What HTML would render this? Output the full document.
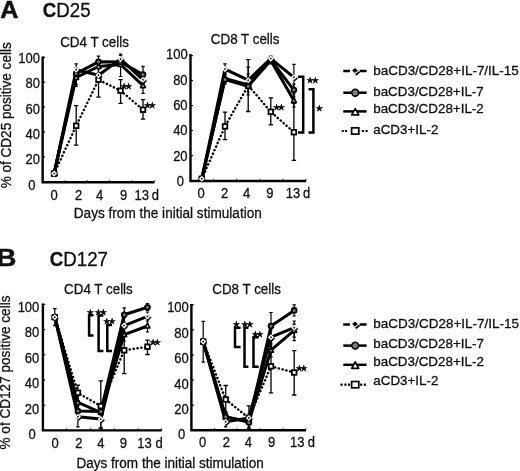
<!DOCTYPE html>
<html lang="en"><head><meta charset="utf-8"><title>Figure</title>
<style>html,body{margin:0;padding:0;background:#fff}body{width:520px;height:471px;overflow:hidden}svg text{font-family:"Liberation Sans", sans-serif}</style>
</head><body>
<svg width="520" height="471" viewBox="0 0 520 471" style="display:block" font-family='"Liberation Sans", sans-serif' fill="#111">
<rect width="520" height="471" fill="#fff"/>
<path d="M42.65 56.5V182.3H154.4" fill="none" stroke="#000" stroke-width="2.4" stroke-linejoin="miter"/>
<path d="M76.2 105.6V145.1M74 105.6H78.4M74 145.1H78.4" stroke="#000" stroke-width="1.3" fill="none"/>
<path d="M98.5 63.4V97.1M96.3 63.4H100.7M96.3 97.1H100.7" stroke="#000" stroke-width="1.3" fill="none"/>
<path d="M120.6 79.7V103.3M118.4 79.7H122.8M118.4 103.3H122.8" stroke="#000" stroke-width="1.3" fill="none"/>
<path d="M143 99.6V119.2M140.8 99.6H145.2M140.8 119.2H145.2" stroke="#000" stroke-width="1.3" fill="none"/>
<path d="M76.2 70V86.3M74.5 70H77.9M74.5 86.3H77.9" stroke="#000" stroke-width="1.2" fill="none"/>
<path d="M98.5 60V73M96.8 60H100.2M96.8 73H100.2" stroke="#000" stroke-width="1.2" fill="none"/>
<path d="M120.6 54V76.5M118.9 54H122.3M118.9 76.5H122.3" stroke="#000" stroke-width="1.2" fill="none"/>
<path d="M143 78V93.3M141.3 78H144.7M141.3 93.3H144.7" stroke="#000" stroke-width="1.2" fill="none"/>
<path d="M76.2 68V84.4M74.5 68H77.9M74.5 84.4H77.9" stroke="#000" stroke-width="1.2" fill="none"/>
<path d="M98.5 56.1V68M96.8 56.1H100.2M96.8 68H100.2" stroke="#000" stroke-width="1.2" fill="none"/>
<path d="M120.6 58V66M118.9 58H122.3M118.9 66H122.3" stroke="#000" stroke-width="1.2" fill="none"/>
<path d="M143 66.3V83M141.3 66.3H144.7M141.3 83H144.7" stroke="#000" stroke-width="1.2" fill="none"/>
<path d="M76.2 63.8V77M74.5 63.8H77.9M74.5 77H77.9" stroke="#000" stroke-width="1.2" fill="none"/>
<path d="M98.5 68V82M96.8 68H100.2M96.8 82H100.2" stroke="#000" stroke-width="1.2" fill="none"/>
<path d="M120.6 55.4V62.6M118.9 55.4H122.3M118.9 62.6H122.3" stroke="#000" stroke-width="1.2" fill="none"/>
<path d="M143 74V86M141.3 74H144.7M141.3 86H144.7" stroke="#000" stroke-width="1.2" fill="none"/>
<polyline points="54.1,173.6 76.2,125.8 98.5,79.7 120.6,90.7 143,109.7" fill="none" stroke="#000" stroke-width="2.4" stroke-dasharray="0.3 3.6" stroke-linecap="round"/>
<polyline points="54.1,173.6 76.2,77.5 98.5,66.5 120.6,64.5 143,85.6" fill="none" stroke="#000" stroke-width="3" stroke-linejoin="round"/>
<polyline points="54.1,173.6 76.2,73.5 98.5,61.8 120.6,62 143,74.6" fill="none" stroke="#000" stroke-width="3" stroke-linejoin="round"/>
<polyline points="54.1,173.6 76.2,69.8 98.5,75.2 120.6,59 143,79.8" fill="none" stroke="#000" stroke-width="3" stroke-linejoin="round"/>
<rect x="51.8" y="171.3" width="4.6" height="4.6" fill="#fff" stroke="#000" stroke-width="1.8"/>
<rect x="73.9" y="123.5" width="4.6" height="4.6" fill="#fff" stroke="#000" stroke-width="1.8"/>
<rect x="96.2" y="77.4" width="4.6" height="4.6" fill="#fff" stroke="#000" stroke-width="1.8"/>
<rect x="118.3" y="88.4" width="4.6" height="4.6" fill="#fff" stroke="#000" stroke-width="1.8"/>
<rect x="140.7" y="107.4" width="4.6" height="4.6" fill="#fff" stroke="#000" stroke-width="1.8"/>
<path d="M51.7 175.6L54.1 170.6L56.5 175.6Z" fill="#ddd" stroke="#000" stroke-width="1.7" stroke-linejoin="round"/>
<path d="M73.8 79.5L76.2 74.5L78.6 79.5Z" fill="#ddd" stroke="#000" stroke-width="1.7" stroke-linejoin="round"/>
<path d="M96.1 68.5L98.5 63.5L100.9 68.5Z" fill="#ddd" stroke="#000" stroke-width="1.7" stroke-linejoin="round"/>
<path d="M118.2 66.5L120.6 61.5L123 66.5Z" fill="#ddd" stroke="#000" stroke-width="1.7" stroke-linejoin="round"/>
<path d="M140.6 87.6L143 82.6L145.4 87.6Z" fill="#ddd" stroke="#000" stroke-width="1.7" stroke-linejoin="round"/>
<circle cx="54.1" cy="173.6" r="2.4" fill="#777" stroke="#000" stroke-width="1.8"/>
<circle cx="76.2" cy="73.5" r="2.4" fill="#777" stroke="#000" stroke-width="1.8"/>
<circle cx="98.5" cy="61.8" r="2.4" fill="#777" stroke="#000" stroke-width="1.8"/>
<circle cx="120.6" cy="62" r="2.4" fill="#777" stroke="#000" stroke-width="1.8"/>
<circle cx="143" cy="74.6" r="2.4" fill="#777" stroke="#000" stroke-width="1.8"/>
<path d="M52.3 174.7L55.2 171.8L58.1 174.7L55.2 177.6Z" fill="#000"/>
<path d="M51.05 173.6L54.1 170.55L57.15 173.6L54.1 176.65Z" fill="#fff"/>
<path d="M52.9 173.6L54.1 172.4L55.3 173.6L54.1 174.8Z" fill="#222"/>
<path d="M74.4 70.9L77.3 68L80.2 70.9L77.3 73.8Z" fill="#000"/>
<path d="M73.15 69.8L76.2 66.75L79.25 69.8L76.2 72.85Z" fill="#fff"/>
<path d="M75 69.8L76.2 68.6L77.4 69.8L76.2 71Z" fill="#222"/>
<path d="M96.7 76.3L99.6 73.4L102.5 76.3L99.6 79.2Z" fill="#000"/>
<path d="M95.45 75.2L98.5 72.15L101.55 75.2L98.5 78.25Z" fill="#fff"/>
<path d="M97.3 75.2L98.5 74L99.7 75.2L98.5 76.4Z" fill="#222"/>
<path d="M118.8 60.1L121.7 57.2L124.6 60.1L121.7 63Z" fill="#000"/>
<path d="M117.55 59L120.6 55.95L123.65 59L120.6 62.05Z" fill="#fff"/>
<path d="M119.4 59L120.6 57.8L121.8 59L120.6 60.2Z" fill="#222"/>
<path d="M141.2 80.9L144.1 78L147 80.9L144.1 83.8Z" fill="#000"/>
<path d="M139.95 79.8L143 76.75L146.05 79.8L143 82.85Z" fill="#fff"/>
<path d="M141.8 79.8L143 78.6L144.2 79.8L143 81Z" fill="#222"/>
<path d="M65 182.3V180.1" stroke="#000" stroke-width="1" stroke-opacity="0.7"/>
<path d="M87.35 182.3V180.1" stroke="#000" stroke-width="1" stroke-opacity="0.7"/>
<path d="M109.7 182.3V180.1" stroke="#000" stroke-width="1" stroke-opacity="0.7"/>
<path d="M132.05 182.3V180.1" stroke="#000" stroke-width="1" stroke-opacity="0.7"/>
<path d="M154.4 182.3V180.1" stroke="#000" stroke-width="1" stroke-opacity="0.7"/>
<path d="M42.65 181.8H45.05" stroke="#000" stroke-width="1.2"/>
<text transform="translate(35.45 189.85) scale(0.9009 1)" font-size="14.43" text-anchor="end" font-weight="normal" stroke="#111" stroke-width="0.3" >0</text>
<path d="M42.65 156.88H45.05" stroke="#000" stroke-width="1.2"/>
<text transform="translate(39.95 164.45) scale(0.9009 1)" font-size="14.43" text-anchor="end" font-weight="normal" stroke="#111" stroke-width="0.3" >20</text>
<path d="M42.65 131.96H45.05" stroke="#000" stroke-width="1.2"/>
<text transform="translate(39.95 139.05) scale(0.9009 1)" font-size="14.43" text-anchor="end" font-weight="normal" stroke="#111" stroke-width="0.3" >40</text>
<path d="M42.65 107.04H45.05" stroke="#000" stroke-width="1.2"/>
<text transform="translate(39.95 113.65) scale(0.9009 1)" font-size="14.43" text-anchor="end" font-weight="normal" stroke="#111" stroke-width="0.3" >60</text>
<path d="M42.65 82.12H45.05" stroke="#000" stroke-width="1.2"/>
<text transform="translate(39.95 88.25) scale(0.9009 1)" font-size="14.43" text-anchor="end" font-weight="normal" stroke="#111" stroke-width="0.3" >80</text>
<path d="M42.65 57.2H45.05" stroke="#000" stroke-width="1.2"/>
<text transform="translate(39.95 62.85) scale(0.9009 1)" font-size="14.43" text-anchor="end" font-weight="normal" stroke="#111" stroke-width="0.3" >100</text>
<text transform="translate(54.2 199.8) scale(0.9009 1)" font-size="14.43" text-anchor="middle" font-weight="normal" stroke="#111" stroke-width="0.3" >0</text>
<text transform="translate(78.5 199.8) scale(0.9009 1)" font-size="14.43" text-anchor="middle" font-weight="normal" stroke="#111" stroke-width="0.3" >2</text>
<text transform="translate(99.5 199.8) scale(0.9009 1)" font-size="14.43" text-anchor="middle" font-weight="normal" stroke="#111" stroke-width="0.3" >4</text>
<text transform="translate(123.5 199.8) scale(0.9009 1)" font-size="14.43" text-anchor="middle" font-weight="normal" stroke="#111" stroke-width="0.3" >9</text>
<text transform="translate(141.7 199.8) scale(0.9009 1)" font-size="14.43" text-anchor="middle" font-weight="normal" stroke="#111" stroke-width="0.3" >13</text>
<text transform="translate(155.4 199.8) scale(0.9009 1)" font-size="14.43" text-anchor="middle" font-weight="normal" stroke="#111" stroke-width="0.3" >d</text>
<text transform="translate(94.5 46.8) scale(0.9174 1)" font-size="14.61" text-anchor="middle" font-weight="normal" stroke="#111" stroke-width="0.3" >CD4 T cells</text>
<path d="M190.5 54V181H306" fill="none" stroke="#000" stroke-width="2.4" stroke-linejoin="miter"/>
<path d="M225 112.1V139.6M222.8 112.1H227.2M222.8 139.6H227.2" stroke="#000" stroke-width="1.3" fill="none"/>
<path d="M248.2 59.6V111.5M246 59.6H250.4M246 111.5H250.4" stroke="#000" stroke-width="1.3" fill="none"/>
<path d="M270.8 97.8V124.9M268.6 97.8H273M268.6 124.9H273" stroke="#000" stroke-width="1.3" fill="none"/>
<path d="M293.9 103V160.3M291.7 103H296.1M291.7 160.3H296.1" stroke="#000" stroke-width="1.3" fill="none"/>
<path d="M225 74V83M223.3 74H226.7M223.3 83H226.7" stroke="#000" stroke-width="1.2" fill="none"/>
<path d="M248.2 67.2V95M246.5 67.2H249.9M246.5 95H249.9" stroke="#000" stroke-width="1.2" fill="none"/>
<path d="M270.8 58V64M269.1 58H272.5M269.1 64H272.5" stroke="#000" stroke-width="1.2" fill="none"/>
<path d="M293.9 94V107M292.2 94H295.6M292.2 107H295.6" stroke="#000" stroke-width="1.2" fill="none"/>
<path d="M225 75V84M223.3 75H226.7M223.3 84H226.7" stroke="#000" stroke-width="1.2" fill="none"/>
<path d="M248.2 80V92M246.5 80H249.9M246.5 92H249.9" stroke="#000" stroke-width="1.2" fill="none"/>
<path d="M270.8 57V63M269.1 57H272.5M269.1 63H272.5" stroke="#000" stroke-width="1.2" fill="none"/>
<path d="M293.9 84V97M292.2 84H295.6M292.2 97H295.6" stroke="#000" stroke-width="1.2" fill="none"/>
<path d="M225 63.8V74M223.3 63.8H226.7M223.3 74H226.7" stroke="#000" stroke-width="1.2" fill="none"/>
<path d="M248.2 74V86M246.5 74H249.9M246.5 86H249.9" stroke="#000" stroke-width="1.2" fill="none"/>
<path d="M270.8 56V61M269.1 56H272.5M269.1 61H272.5" stroke="#000" stroke-width="1.2" fill="none"/>
<path d="M293.9 64.3V90M292.2 64.3H295.6M292.2 90H295.6" stroke="#000" stroke-width="1.2" fill="none"/>
<polyline points="201.8,178.8 225,126.4 248.2,85.5 270.8,111.8 293.9,132.2" fill="none" stroke="#000" stroke-width="2.4" stroke-dasharray="0.3 3.6" stroke-linecap="round"/>
<polyline points="201.8,178.8 225,78.5 248.2,85 270.8,60.5 293.9,100.6" fill="none" stroke="#000" stroke-width="3" stroke-linejoin="round"/>
<polyline points="201.8,178.8 225,79.6 248.2,86.3 270.8,60 293.9,90.1" fill="none" stroke="#000" stroke-width="3" stroke-linejoin="round"/>
<polyline points="201.8,178.8 225,69.1 248.2,80.2 270.8,58.6 293.9,77.3" fill="none" stroke="#000" stroke-width="3" stroke-linejoin="round"/>
<rect x="199.5" y="176.5" width="4.6" height="4.6" fill="#fff" stroke="#000" stroke-width="1.8"/>
<rect x="222.7" y="124.1" width="4.6" height="4.6" fill="#fff" stroke="#000" stroke-width="1.8"/>
<rect x="245.9" y="83.2" width="4.6" height="4.6" fill="#fff" stroke="#000" stroke-width="1.8"/>
<rect x="268.5" y="109.5" width="4.6" height="4.6" fill="#fff" stroke="#000" stroke-width="1.8"/>
<rect x="291.6" y="129.9" width="4.6" height="4.6" fill="#fff" stroke="#000" stroke-width="1.8"/>
<path d="M199.4 180.8L201.8 175.8L204.2 180.8Z" fill="#ddd" stroke="#000" stroke-width="1.7" stroke-linejoin="round"/>
<path d="M222.6 80.5L225 75.5L227.4 80.5Z" fill="#ddd" stroke="#000" stroke-width="1.7" stroke-linejoin="round"/>
<path d="M245.8 87L248.2 82L250.6 87Z" fill="#ddd" stroke="#000" stroke-width="1.7" stroke-linejoin="round"/>
<path d="M268.4 62.5L270.8 57.5L273.2 62.5Z" fill="#ddd" stroke="#000" stroke-width="1.7" stroke-linejoin="round"/>
<path d="M291.5 102.6L293.9 97.6L296.3 102.6Z" fill="#ddd" stroke="#000" stroke-width="1.7" stroke-linejoin="round"/>
<circle cx="201.8" cy="178.8" r="2.4" fill="#777" stroke="#000" stroke-width="1.8"/>
<circle cx="225" cy="79.6" r="2.4" fill="#777" stroke="#000" stroke-width="1.8"/>
<circle cx="248.2" cy="86.3" r="2.4" fill="#777" stroke="#000" stroke-width="1.8"/>
<circle cx="270.8" cy="60" r="2.4" fill="#777" stroke="#000" stroke-width="1.8"/>
<circle cx="293.9" cy="90.1" r="2.4" fill="#777" stroke="#000" stroke-width="1.8"/>
<path d="M200 179.9L202.9 177L205.8 179.9L202.9 182.8Z" fill="#000"/>
<path d="M198.75 178.8L201.8 175.75L204.85 178.8L201.8 181.85Z" fill="#fff"/>
<path d="M200.6 178.8L201.8 177.6L203 178.8L201.8 180Z" fill="#222"/>
<path d="M223.2 70.2L226.1 67.3L229 70.2L226.1 73.1Z" fill="#000"/>
<path d="M221.95 69.1L225 66.05L228.05 69.1L225 72.15Z" fill="#fff"/>
<path d="M223.8 69.1L225 67.9L226.2 69.1L225 70.3Z" fill="#222"/>
<path d="M246.4 81.3L249.3 78.4L252.2 81.3L249.3 84.2Z" fill="#000"/>
<path d="M245.15 80.2L248.2 77.15L251.25 80.2L248.2 83.25Z" fill="#fff"/>
<path d="M247 80.2L248.2 79L249.4 80.2L248.2 81.4Z" fill="#222"/>
<path d="M269 59.7L271.9 56.8L274.8 59.7L271.9 62.6Z" fill="#000"/>
<path d="M267.75 58.6L270.8 55.55L273.85 58.6L270.8 61.65Z" fill="#fff"/>
<path d="M269.6 58.6L270.8 57.4L272 58.6L270.8 59.8Z" fill="#222"/>
<path d="M292.1 78.4L295 75.5L297.9 78.4L295 81.3Z" fill="#000"/>
<path d="M290.85 77.3L293.9 74.25L296.95 77.3L293.9 80.35Z" fill="#fff"/>
<path d="M292.7 77.3L293.9 76.1L295.1 77.3L293.9 78.5Z" fill="#222"/>
<path d="M213.6 181V178.8" stroke="#000" stroke-width="1" stroke-opacity="0.7"/>
<path d="M236.7 181V178.8" stroke="#000" stroke-width="1" stroke-opacity="0.7"/>
<path d="M259.8 181V178.8" stroke="#000" stroke-width="1" stroke-opacity="0.7"/>
<path d="M282.9 181V178.8" stroke="#000" stroke-width="1" stroke-opacity="0.7"/>
<path d="M306 181V178.8" stroke="#000" stroke-width="1" stroke-opacity="0.7"/>
<path d="M190.5 180.6H192.9" stroke="#000" stroke-width="1.2"/>
<text transform="translate(184 186.25) scale(0.9009 1)" font-size="14.43" text-anchor="end" font-weight="normal" stroke="#111" stroke-width="0.3" >0</text>
<path d="M190.5 155.6H192.9" stroke="#000" stroke-width="1.2"/>
<text transform="translate(187.6 160.87) scale(0.9009 1)" font-size="14.43" text-anchor="end" font-weight="normal" stroke="#111" stroke-width="0.3" >20</text>
<path d="M190.5 130.6H192.9" stroke="#000" stroke-width="1.2"/>
<text transform="translate(187.6 135.49) scale(0.9009 1)" font-size="14.43" text-anchor="end" font-weight="normal" stroke="#111" stroke-width="0.3" >40</text>
<path d="M190.5 105.6H192.9" stroke="#000" stroke-width="1.2"/>
<text transform="translate(187.6 110.11) scale(0.9009 1)" font-size="14.43" text-anchor="end" font-weight="normal" stroke="#111" stroke-width="0.3" >60</text>
<path d="M190.5 80.6H192.9" stroke="#000" stroke-width="1.2"/>
<text transform="translate(187.6 84.73) scale(0.9009 1)" font-size="14.43" text-anchor="end" font-weight="normal" stroke="#111" stroke-width="0.3" >80</text>
<path d="M190.5 55.6H192.9" stroke="#000" stroke-width="1.2"/>
<text transform="translate(187.6 59.35) scale(0.9009 1)" font-size="14.43" text-anchor="end" font-weight="normal" stroke="#111" stroke-width="0.3" >100</text>
<text transform="translate(201 197.7) scale(0.9009 1)" font-size="14.43" text-anchor="middle" font-weight="normal" stroke="#111" stroke-width="0.3" >0</text>
<text transform="translate(224.6 197.7) scale(0.9009 1)" font-size="14.43" text-anchor="middle" font-weight="normal" stroke="#111" stroke-width="0.3" >2</text>
<text transform="translate(246.5 197.7) scale(0.9009 1)" font-size="14.43" text-anchor="middle" font-weight="normal" stroke="#111" stroke-width="0.3" >4</text>
<text transform="translate(269.8 197.7) scale(0.9009 1)" font-size="14.43" text-anchor="middle" font-weight="normal" stroke="#111" stroke-width="0.3" >9</text>
<text transform="translate(293 197.7) scale(0.9009 1)" font-size="14.43" text-anchor="middle" font-weight="normal" stroke="#111" stroke-width="0.3" >13</text>
<text transform="translate(306.6 197.7) scale(0.9009 1)" font-size="14.43" text-anchor="middle" font-weight="normal" stroke="#111" stroke-width="0.3" >d</text>
<text transform="translate(245.15 44) scale(0.9174 1)" font-size="14.61" text-anchor="middle" font-weight="normal" stroke="#111" stroke-width="0.3" >CD8 T cells</text>
<path d="M42.9 303.6V430.4H161.8" fill="none" stroke="#000" stroke-width="2.4" stroke-linejoin="miter"/>
<path d="M77.9 385.1V401M75.7 385.1H80.1M75.7 401H80.1" stroke="#000" stroke-width="1.3" fill="none"/>
<path d="M100.8 380.9V428M98.6 380.9H103M98.6 428H103" stroke="#000" stroke-width="1.3" fill="none"/>
<path d="M124.2 328V373.7M122 328H126.4M122 373.7H126.4" stroke="#000" stroke-width="1.3" fill="none"/>
<path d="M147.5 340.1V354.5M145.3 340.1H149.7M145.3 354.5H149.7" stroke="#000" stroke-width="1.3" fill="none"/>
<path d="M77.9 396V410M76.2 396H79.6M76.2 410H79.6" stroke="#000" stroke-width="1.2" fill="none"/>
<path d="M100.8 404V418M99.1 404H102.5M99.1 418H102.5" stroke="#000" stroke-width="1.2" fill="none"/>
<path d="M124.2 328V341M122.5 328H125.9M122.5 341H125.9" stroke="#000" stroke-width="1.2" fill="none"/>
<path d="M147.5 319V332M145.8 319H149.2M145.8 332H149.2" stroke="#000" stroke-width="1.2" fill="none"/>
<path d="M77.9 404V418M76.2 404H79.6M76.2 418H79.6" stroke="#000" stroke-width="1.2" fill="none"/>
<path d="M100.8 406V420M99.1 406H102.5M99.1 420H102.5" stroke="#000" stroke-width="1.2" fill="none"/>
<path d="M124.2 307.8V322M122.5 307.8H125.9M122.5 322H125.9" stroke="#000" stroke-width="1.2" fill="none"/>
<path d="M147.5 303.5V310.5M145.8 303.5H149.2M145.8 310.5H149.2" stroke="#000" stroke-width="1.2" fill="none"/>
<path d="M54.8 308.7V325.7M53.1 308.7H56.5M53.1 325.7H56.5" stroke="#000" stroke-width="1.2" fill="none"/>
<path d="M77.9 406V426.8M76.2 406H79.6M76.2 426.8H79.6" stroke="#000" stroke-width="1.2" fill="none"/>
<path d="M100.8 412V429M99.1 412H102.5M99.1 429H102.5" stroke="#000" stroke-width="1.2" fill="none"/>
<path d="M124.2 318V332M122.5 318H125.9M122.5 332H125.9" stroke="#000" stroke-width="1.2" fill="none"/>
<path d="M147.5 312V321M145.8 312H149.2M145.8 321H149.2" stroke="#000" stroke-width="1.2" fill="none"/>
<polyline points="54.8,317.2 77.9,392.8 100.8,406.1 124.2,350.3 147.5,346.7" fill="none" stroke="#000" stroke-width="2.4" stroke-dasharray="0.3 3.6" stroke-linecap="round"/>
<polyline points="54.8,317.2 77.9,402.3 100.8,412.5 124.2,334.6 147.5,326" fill="none" stroke="#000" stroke-width="3" stroke-linejoin="round"/>
<polyline points="54.8,317.2 77.9,411 100.8,411.5 124.2,314.7 147.5,307.3" fill="none" stroke="#000" stroke-width="3" stroke-linejoin="round"/>
<polyline points="54.8,317.2 77.9,416.7 100.8,419.1 124.2,325.6 147.5,316.4" fill="none" stroke="#000" stroke-width="3" stroke-linejoin="round"/>
<rect x="52.5" y="314.9" width="4.6" height="4.6" fill="#fff" stroke="#000" stroke-width="1.8"/>
<rect x="75.6" y="390.5" width="4.6" height="4.6" fill="#fff" stroke="#000" stroke-width="1.8"/>
<rect x="98.5" y="403.8" width="4.6" height="4.6" fill="#fff" stroke="#000" stroke-width="1.8"/>
<rect x="121.9" y="348" width="4.6" height="4.6" fill="#fff" stroke="#000" stroke-width="1.8"/>
<rect x="145.2" y="344.4" width="4.6" height="4.6" fill="#fff" stroke="#000" stroke-width="1.8"/>
<path d="M52.4 319.2L54.8 314.2L57.2 319.2Z" fill="#ddd" stroke="#000" stroke-width="1.7" stroke-linejoin="round"/>
<path d="M75.5 404.3L77.9 399.3L80.3 404.3Z" fill="#ddd" stroke="#000" stroke-width="1.7" stroke-linejoin="round"/>
<path d="M98.4 414.5L100.8 409.5L103.2 414.5Z" fill="#ddd" stroke="#000" stroke-width="1.7" stroke-linejoin="round"/>
<path d="M121.8 336.6L124.2 331.6L126.6 336.6Z" fill="#ddd" stroke="#000" stroke-width="1.7" stroke-linejoin="round"/>
<path d="M145.1 328L147.5 323L149.9 328Z" fill="#ddd" stroke="#000" stroke-width="1.7" stroke-linejoin="round"/>
<circle cx="54.8" cy="317.2" r="2.4" fill="#777" stroke="#000" stroke-width="1.8"/>
<circle cx="77.9" cy="411" r="2.4" fill="#777" stroke="#000" stroke-width="1.8"/>
<circle cx="100.8" cy="411.5" r="2.4" fill="#777" stroke="#000" stroke-width="1.8"/>
<circle cx="124.2" cy="314.7" r="2.4" fill="#777" stroke="#000" stroke-width="1.8"/>
<circle cx="147.5" cy="307.3" r="2.4" fill="#777" stroke="#000" stroke-width="1.8"/>
<path d="M53 318.3L55.9 315.4L58.8 318.3L55.9 321.2Z" fill="#000"/>
<path d="M51.75 317.2L54.8 314.15L57.85 317.2L54.8 320.25Z" fill="#fff"/>
<path d="M53.6 317.2L54.8 316L56 317.2L54.8 318.4Z" fill="#222"/>
<path d="M76.1 417.8L79 414.9L81.9 417.8L79 420.7Z" fill="#000"/>
<path d="M74.85 416.7L77.9 413.65L80.95 416.7L77.9 419.75Z" fill="#fff"/>
<path d="M76.7 416.7L77.9 415.5L79.1 416.7L77.9 417.9Z" fill="#222"/>
<path d="M99 420.2L101.9 417.3L104.8 420.2L101.9 423.1Z" fill="#000"/>
<path d="M97.75 419.1L100.8 416.05L103.85 419.1L100.8 422.15Z" fill="#fff"/>
<path d="M99.6 419.1L100.8 417.9L102 419.1L100.8 420.3Z" fill="#222"/>
<path d="M122.4 326.7L125.3 323.8L128.2 326.7L125.3 329.6Z" fill="#000"/>
<path d="M121.15 325.6L124.2 322.55L127.25 325.6L124.2 328.65Z" fill="#fff"/>
<path d="M123 325.6L124.2 324.4L125.4 325.6L124.2 326.8Z" fill="#222"/>
<path d="M145.7 317.5L148.6 314.6L151.5 317.5L148.6 320.4Z" fill="#000"/>
<path d="M144.45 316.4L147.5 313.35L150.55 316.4L147.5 319.45Z" fill="#fff"/>
<path d="M146.3 316.4L147.5 315.2L148.7 316.4L147.5 317.6Z" fill="#222"/>
<path d="M66.68 430.4V428.2" stroke="#000" stroke-width="1" stroke-opacity="0.7"/>
<path d="M90.46 430.4V428.2" stroke="#000" stroke-width="1" stroke-opacity="0.7"/>
<path d="M114.24 430.4V428.2" stroke="#000" stroke-width="1" stroke-opacity="0.7"/>
<path d="M138.02 430.4V428.2" stroke="#000" stroke-width="1" stroke-opacity="0.7"/>
<path d="M161.8 430.4V428.2" stroke="#000" stroke-width="1" stroke-opacity="0.7"/>
<path d="M42.9 430.4H45.3" stroke="#000" stroke-width="1.2"/>
<text transform="translate(35.7 439.45) scale(0.9009 1)" font-size="14.43" text-anchor="end" font-weight="normal" stroke="#111" stroke-width="0.3" >0</text>
<path d="M42.9 405.2H45.3" stroke="#000" stroke-width="1.2"/>
<text transform="translate(39.3 413.91) scale(0.9009 1)" font-size="14.43" text-anchor="end" font-weight="normal" stroke="#111" stroke-width="0.3" >20</text>
<path d="M42.9 380H45.3" stroke="#000" stroke-width="1.2"/>
<text transform="translate(39.3 388.37) scale(0.9009 1)" font-size="14.43" text-anchor="end" font-weight="normal" stroke="#111" stroke-width="0.3" >40</text>
<path d="M42.9 354.8H45.3" stroke="#000" stroke-width="1.2"/>
<text transform="translate(39.3 362.83) scale(0.9009 1)" font-size="14.43" text-anchor="end" font-weight="normal" stroke="#111" stroke-width="0.3" >60</text>
<path d="M42.9 329.6H45.3" stroke="#000" stroke-width="1.2"/>
<text transform="translate(39.3 337.29) scale(0.9009 1)" font-size="14.43" text-anchor="end" font-weight="normal" stroke="#111" stroke-width="0.3" >80</text>
<path d="M42.9 304.4H45.3" stroke="#000" stroke-width="1.2"/>
<text transform="translate(39.3 311.75) scale(0.9009 1)" font-size="14.43" text-anchor="end" font-weight="normal" stroke="#111" stroke-width="0.3" >100</text>
<text transform="translate(55.1 447.5) scale(0.9009 1)" font-size="14.43" text-anchor="middle" font-weight="normal" stroke="#111" stroke-width="0.3" >0</text>
<text transform="translate(78.8 447.5) scale(0.9009 1)" font-size="14.43" text-anchor="middle" font-weight="normal" stroke="#111" stroke-width="0.3" >2</text>
<text transform="translate(100.8 447.5) scale(0.9009 1)" font-size="14.43" text-anchor="middle" font-weight="normal" stroke="#111" stroke-width="0.3" >4</text>
<text transform="translate(123.4 447.5) scale(0.9009 1)" font-size="14.43" text-anchor="middle" font-weight="normal" stroke="#111" stroke-width="0.3" >9</text>
<text transform="translate(144.4 447.5) scale(0.9009 1)" font-size="14.43" text-anchor="middle" font-weight="normal" stroke="#111" stroke-width="0.3" >13</text>
<text transform="translate(159.2 447.5) scale(0.9009 1)" font-size="14.43" text-anchor="middle" font-weight="normal" stroke="#111" stroke-width="0.3" >d</text>
<text transform="translate(98.45 294.3) scale(0.9174 1)" font-size="14.61" text-anchor="middle" font-weight="normal" stroke="#111" stroke-width="0.3" >CD4 T cells</text>
<path d="M191.4 304V430.3H306" fill="none" stroke="#000" stroke-width="2.4" stroke-linejoin="miter"/>
<path d="M225.7 385.5V413M223.5 385.5H227.9M223.5 413H227.9" stroke="#000" stroke-width="1.3" fill="none"/>
<path d="M248.9 405.8V429M246.7 405.8H251.1M246.7 429H251.1" stroke="#000" stroke-width="1.3" fill="none"/>
<path d="M271 340V392.8M268.8 340H273.2M268.8 392.8H273.2" stroke="#000" stroke-width="1.3" fill="none"/>
<path d="M294.2 350.7V395M292 350.7H296.4M292 395H296.4" stroke="#000" stroke-width="1.3" fill="none"/>
<path d="M225.7 412V422M224 412H227.4M224 422H227.4" stroke="#000" stroke-width="1.2" fill="none"/>
<path d="M248.9 416V427M247.2 416H250.6M247.2 427H250.6" stroke="#000" stroke-width="1.2" fill="none"/>
<path d="M271 343V357M269.3 343H272.7M269.3 357H272.7" stroke="#000" stroke-width="1.2" fill="none"/>
<path d="M294.2 324V340.7M292.5 324H295.9M292.5 340.7H295.9" stroke="#000" stroke-width="1.2" fill="none"/>
<path d="M225.7 411V422M224 411H227.4M224 422H227.4" stroke="#000" stroke-width="1.2" fill="none"/>
<path d="M248.9 418V428M247.2 418H250.6M247.2 428H250.6" stroke="#000" stroke-width="1.2" fill="none"/>
<path d="M271 312.5V340M269.3 312.5H272.7M269.3 340H272.7" stroke="#000" stroke-width="1.2" fill="none"/>
<path d="M294.2 304.8V316M292.5 304.8H295.9M292.5 316H295.9" stroke="#000" stroke-width="1.2" fill="none"/>
<path d="M203.2 321.4V362.2M201.5 321.4H204.9M201.5 362.2H204.9" stroke="#000" stroke-width="1.2" fill="none"/>
<path d="M225.7 417V426.8M224 417H227.4M224 426.8H227.4" stroke="#000" stroke-width="1.2" fill="none"/>
<path d="M248.9 414V424M247.2 414H250.6M247.2 424H250.6" stroke="#000" stroke-width="1.2" fill="none"/>
<path d="M271 330V345M269.3 330H272.7M269.3 345H272.7" stroke="#000" stroke-width="1.2" fill="none"/>
<path d="M294.2 321V337.2M292.5 321H295.9M292.5 337.2H295.9" stroke="#000" stroke-width="1.2" fill="none"/>
<polyline points="203.2,341.6 225.7,399.5 248.9,418 271,366.3 294.2,372.5" fill="none" stroke="#000" stroke-width="2.4" stroke-dasharray="0.3 3.6" stroke-linecap="round"/>
<polyline points="203.2,341.6 225.7,417 248.9,421.5 271,350.2 294.2,330.3" fill="none" stroke="#000" stroke-width="3" stroke-linejoin="round"/>
<polyline points="203.2,341.6 225.7,416.7 248.9,422.4 271,326 294.2,310.4" fill="none" stroke="#000" stroke-width="3" stroke-linejoin="round"/>
<polyline points="203.2,341.6 225.7,421.8 248.9,418 271,337.2 294.2,327.7" fill="none" stroke="#000" stroke-width="3" stroke-linejoin="round"/>
<rect x="200.9" y="339.3" width="4.6" height="4.6" fill="#fff" stroke="#000" stroke-width="1.8"/>
<rect x="223.4" y="397.2" width="4.6" height="4.6" fill="#fff" stroke="#000" stroke-width="1.8"/>
<rect x="246.6" y="415.7" width="4.6" height="4.6" fill="#fff" stroke="#000" stroke-width="1.8"/>
<rect x="268.7" y="364" width="4.6" height="4.6" fill="#fff" stroke="#000" stroke-width="1.8"/>
<rect x="291.9" y="370.2" width="4.6" height="4.6" fill="#fff" stroke="#000" stroke-width="1.8"/>
<path d="M200.8 343.6L203.2 338.6L205.6 343.6Z" fill="#ddd" stroke="#000" stroke-width="1.7" stroke-linejoin="round"/>
<path d="M223.3 419L225.7 414L228.1 419Z" fill="#ddd" stroke="#000" stroke-width="1.7" stroke-linejoin="round"/>
<path d="M246.5 423.5L248.9 418.5L251.3 423.5Z" fill="#ddd" stroke="#000" stroke-width="1.7" stroke-linejoin="round"/>
<path d="M268.6 352.2L271 347.2L273.4 352.2Z" fill="#ddd" stroke="#000" stroke-width="1.7" stroke-linejoin="round"/>
<path d="M291.8 332.3L294.2 327.3L296.6 332.3Z" fill="#ddd" stroke="#000" stroke-width="1.7" stroke-linejoin="round"/>
<circle cx="203.2" cy="341.6" r="2.4" fill="#777" stroke="#000" stroke-width="1.8"/>
<circle cx="225.7" cy="416.7" r="2.4" fill="#777" stroke="#000" stroke-width="1.8"/>
<circle cx="248.9" cy="422.4" r="2.4" fill="#777" stroke="#000" stroke-width="1.8"/>
<circle cx="271" cy="326" r="2.4" fill="#777" stroke="#000" stroke-width="1.8"/>
<circle cx="294.2" cy="310.4" r="2.4" fill="#777" stroke="#000" stroke-width="1.8"/>
<path d="M201.4 342.7L204.3 339.8L207.2 342.7L204.3 345.6Z" fill="#000"/>
<path d="M200.15 341.6L203.2 338.55L206.25 341.6L203.2 344.65Z" fill="#fff"/>
<path d="M202 341.6L203.2 340.4L204.4 341.6L203.2 342.8Z" fill="#222"/>
<path d="M223.9 422.9L226.8 420L229.7 422.9L226.8 425.8Z" fill="#000"/>
<path d="M222.65 421.8L225.7 418.75L228.75 421.8L225.7 424.85Z" fill="#fff"/>
<path d="M224.5 421.8L225.7 420.6L226.9 421.8L225.7 423Z" fill="#222"/>
<path d="M247.1 419.1L250 416.2L252.9 419.1L250 422Z" fill="#000"/>
<path d="M245.85 418L248.9 414.95L251.95 418L248.9 421.05Z" fill="#fff"/>
<path d="M247.7 418L248.9 416.8L250.1 418L248.9 419.2Z" fill="#222"/>
<path d="M269.2 338.3L272.1 335.4L275 338.3L272.1 341.2Z" fill="#000"/>
<path d="M267.95 337.2L271 334.15L274.05 337.2L271 340.25Z" fill="#fff"/>
<path d="M269.8 337.2L271 336L272.2 337.2L271 338.4Z" fill="#222"/>
<path d="M292.4 328.8L295.3 325.9L298.2 328.8L295.3 331.7Z" fill="#000"/>
<path d="M291.15 327.7L294.2 324.65L297.25 327.7L294.2 330.75Z" fill="#fff"/>
<path d="M293 327.7L294.2 326.5L295.4 327.7L294.2 328.9Z" fill="#222"/>
<path d="M214.32 430.3V428.1" stroke="#000" stroke-width="1" stroke-opacity="0.7"/>
<path d="M237.24 430.3V428.1" stroke="#000" stroke-width="1" stroke-opacity="0.7"/>
<path d="M260.16 430.3V428.1" stroke="#000" stroke-width="1" stroke-opacity="0.7"/>
<path d="M283.08 430.3V428.1" stroke="#000" stroke-width="1" stroke-opacity="0.7"/>
<path d="M306 430.3V428.1" stroke="#000" stroke-width="1" stroke-opacity="0.7"/>
<path d="M191.4 430.3H193.8" stroke="#000" stroke-width="1.2"/>
<text transform="translate(185.2 439.35) scale(0.9009 1)" font-size="14.43" text-anchor="end" font-weight="normal" stroke="#111" stroke-width="0.3" >0</text>
<path d="M191.4 405.2H193.8" stroke="#000" stroke-width="1.2"/>
<text transform="translate(188.8 413.93) scale(0.9009 1)" font-size="14.43" text-anchor="end" font-weight="normal" stroke="#111" stroke-width="0.3" >20</text>
<path d="M191.4 380.1H193.8" stroke="#000" stroke-width="1.2"/>
<text transform="translate(188.8 388.51) scale(0.9009 1)" font-size="14.43" text-anchor="end" font-weight="normal" stroke="#111" stroke-width="0.3" >40</text>
<path d="M191.4 355H193.8" stroke="#000" stroke-width="1.2"/>
<text transform="translate(188.8 363.09) scale(0.9009 1)" font-size="14.43" text-anchor="end" font-weight="normal" stroke="#111" stroke-width="0.3" >60</text>
<path d="M191.4 329.9H193.8" stroke="#000" stroke-width="1.2"/>
<text transform="translate(188.8 337.67) scale(0.9009 1)" font-size="14.43" text-anchor="end" font-weight="normal" stroke="#111" stroke-width="0.3" >80</text>
<path d="M191.4 304.8H193.8" stroke="#000" stroke-width="1.2"/>
<text transform="translate(188.8 312.25) scale(0.9009 1)" font-size="14.43" text-anchor="end" font-weight="normal" stroke="#111" stroke-width="0.3" >100</text>
<text transform="translate(202.5 447) scale(0.9009 1)" font-size="14.43" text-anchor="middle" font-weight="normal" stroke="#111" stroke-width="0.3" >0</text>
<text transform="translate(226.3 447) scale(0.9009 1)" font-size="14.43" text-anchor="middle" font-weight="normal" stroke="#111" stroke-width="0.3" >2</text>
<text transform="translate(248.3 447) scale(0.9009 1)" font-size="14.43" text-anchor="middle" font-weight="normal" stroke="#111" stroke-width="0.3" >4</text>
<text transform="translate(271.5 447) scale(0.9009 1)" font-size="14.43" text-anchor="middle" font-weight="normal" stroke="#111" stroke-width="0.3" >9</text>
<text transform="translate(297.2 447) scale(0.9009 1)" font-size="14.43" text-anchor="middle" font-weight="normal" stroke="#111" stroke-width="0.3" >13</text>
<text transform="translate(311.4 447) scale(0.9009 1)" font-size="14.43" text-anchor="middle" font-weight="normal" stroke="#111" stroke-width="0.3" >d</text>
<text transform="translate(246.6 294.1) scale(0.9174 1)" font-size="14.61" text-anchor="middle" font-weight="normal" stroke="#111" stroke-width="0.3" >CD8 T cells</text>
<text transform="translate(0.3 18.3) scale(1.07 1)" font-size="23.5" font-weight="bold" stroke="#111" stroke-width="0.5">A</text>
<text transform="translate(42.8 17.3) scale(0.9524 1)" font-size="19.64" text-anchor="start" font-weight="normal" stroke="#111" stroke-width="0.3" ><tspan font-weight="bold">C</tspan>D25</text>
<text transform="translate(-3.8 265.6) scale(1.15 1)" font-size="24.3" font-weight="bold" stroke="#111" stroke-width="0.5">B</text>
<text transform="translate(49.8 266) scale(0.9524 1)" font-size="19.64" text-anchor="start" font-weight="normal" stroke="#111" stroke-width="0.3" ><tspan font-weight="bold">C</tspan>D127</text>
<text transform="translate(11.1 188.3) rotate(-90)" stroke="#111" stroke-width="0.3" font-size="14.5" textLength="146" lengthAdjust="spacingAndGlyphs">% of CD25 positive cells</text>
<text transform="translate(10.1 449.5) rotate(-90)" stroke="#111" stroke-width="0.3" font-size="14.5" textLength="154" lengthAdjust="spacingAndGlyphs">% of CD127 positive cells</text>
<text transform="translate(73.8 218.2) scale(0.9302 1)" font-size="14.4" text-anchor="start" font-weight="normal" textLength="202.1" lengthAdjust="spacingAndGlyphs" stroke="#111" stroke-width="0.3" >Days from the initial stimulation</text>
<text transform="translate(76.5 467.8) scale(0.9302 1)" font-size="14.4" text-anchor="start" font-weight="normal" textLength="201.24" lengthAdjust="spacingAndGlyphs" stroke="#111" stroke-width="0.3" >Days from the initial stimulation</text>
<path d="M343.3 71H349.9M359.6 71H366.6" stroke="#000" stroke-width="2.5"/>
<path d="M352.9 72.5L356.5 69.3L360.1 72.5L356.5 75.7Z" fill="#000"/>
<path d="M350.9 70.6L355.1 66.8L359.3 70.6L355.1 74.4Z" fill="#fff"/>
<path d="M352.1 70.5L355 68L357.9 70.5L355 73Z" fill="#000"/>
<text transform="translate(373.2 74.9) scale(1.0417 1)" font-size="12.86" text-anchor="start" font-weight="normal" textLength="139.78" lengthAdjust="spacingAndGlyphs" stroke="#111" stroke-width="0.3" >baCD3/CD28+IL-7/IL-15</text>
<path d="M343.3 92.7H366.6" stroke="#000" stroke-width="2.5"/>
<circle cx="355.2" cy="92.7" r="3.4" fill="#7d7d7d" stroke="#000" stroke-width="1.6"/>
<text transform="translate(373.2 95.7) scale(1.0417 1)" font-size="12.86" text-anchor="start" font-weight="normal" stroke="#111" stroke-width="0.3" >baCD3/CD28+IL-7</text>
<path d="M343.3 111.4H366.6" stroke="#000" stroke-width="2.5"/>
<path d="M351.7 114.9L355.2 108.6L358.7 114.9Z" fill="#fff" stroke="#000" stroke-width="1.7" stroke-linejoin="round"/>
<text transform="translate(373.2 113) scale(1.0417 1)" font-size="12.86" text-anchor="start" font-weight="normal" stroke="#111" stroke-width="0.3" >baCD3/CD28+IL-2</text>
<rect x="341.7" y="129.9" width="2.2" height="2.2" rx="0.5" fill="#000"/>
<rect x="344.9" y="129.9" width="2.2" height="2.2" rx="0.5" fill="#000"/>
<rect x="361.8" y="129.9" width="2.2" height="2.2" rx="0.5" fill="#000"/>
<rect x="365.5" y="129.9" width="2.2" height="2.2" rx="0.5" fill="#000"/>
<rect x="351.6" y="127.8" width="7.2" height="6.3" fill="#fff" stroke="#000" stroke-width="1.7"/>
<text transform="translate(373.2 133.5) scale(1.0417 1)" font-size="12.86" text-anchor="start" font-weight="normal" stroke="#111" stroke-width="0.3" >aCD3+IL-2</text>
<path d="M343.3 324.4H349.9M359.6 324.4H366.6" stroke="#000" stroke-width="2.5"/>
<path d="M352.9 325.9L356.5 322.7L360.1 325.9L356.5 329.1Z" fill="#000"/>
<path d="M350.9 324L355.1 320.2L359.3 324L355.1 327.8Z" fill="#fff"/>
<path d="M352.1 323.9L355 321.4L357.9 323.9L355 326.4Z" fill="#000"/>
<text transform="translate(373.3 328.4) scale(1.0417 1)" font-size="12.86" text-anchor="start" font-weight="normal" textLength="139.78" lengthAdjust="spacingAndGlyphs" stroke="#111" stroke-width="0.3" >baCD3/CD28+IL-7/IL-15</text>
<path d="M343.3 345.6H366.6" stroke="#000" stroke-width="2.5"/>
<circle cx="355.2" cy="345.6" r="3.4" fill="#7d7d7d" stroke="#000" stroke-width="1.6"/>
<text transform="translate(373.3 348.4) scale(1.0417 1)" font-size="12.86" text-anchor="start" font-weight="normal" stroke="#111" stroke-width="0.3" >baCD3/CD28+IL-7</text>
<path d="M343.3 364.8H366.6" stroke="#000" stroke-width="2.5"/>
<path d="M351.7 368.3L355.2 362L358.7 368.3Z" fill="#fff" stroke="#000" stroke-width="1.7" stroke-linejoin="round"/>
<text transform="translate(373.3 366.2) scale(1.0417 1)" font-size="12.86" text-anchor="start" font-weight="normal" stroke="#111" stroke-width="0.3" >baCD3/CD28+IL-2</text>
<rect x="340.5" y="383.6" width="2.2" height="2.2" rx="0.5" fill="#000"/>
<rect x="344.3" y="383.6" width="2.2" height="2.2" rx="0.5" fill="#000"/>
<rect x="347.9" y="383.6" width="2.2" height="2.2" rx="0.5" fill="#000"/>
<rect x="360.1" y="383.6" width="2.2" height="2.2" rx="0.5" fill="#000"/>
<rect x="363.8" y="383.6" width="2.2" height="2.2" rx="0.5" fill="#000"/>
<rect x="351.6" y="381.5" width="7.2" height="6.3" fill="#fff" stroke="#000" stroke-width="1.7"/>
<text transform="translate(373.3 385.1) scale(1.0417 1)" font-size="12.86" text-anchor="start" font-weight="normal" stroke="#111" stroke-width="0.3" >aCD3+IL-2</text>
<text x="120.44" y="89.34" font-size="8" stroke="#000" stroke-width="0.5" fill="#000" style="font-family:'DejaVu Sans',sans-serif">★</text>
<text x="125.04" y="89.34" font-size="8" stroke="#000" stroke-width="0.5" fill="#000" style="font-family:'DejaVu Sans',sans-serif">★</text>
<text x="143.94" y="108.34" font-size="8" stroke="#000" stroke-width="0.5" fill="#000" style="font-family:'DejaVu Sans',sans-serif">★</text>
<text x="148.64" y="108.34" font-size="8" stroke="#000" stroke-width="0.5" fill="#000" style="font-family:'DejaVu Sans',sans-serif">★</text>
<text x="272.94" y="109.64" font-size="8" stroke="#000" stroke-width="0.5" fill="#000" style="font-family:'DejaVu Sans',sans-serif">★</text>
<text x="277.64" y="109.64" font-size="8" stroke="#000" stroke-width="0.5" fill="#000" style="font-family:'DejaVu Sans',sans-serif">★</text>
<text x="306.54" y="82.84" font-size="8" stroke="#000" stroke-width="0.5" fill="#000" style="font-family:'DejaVu Sans',sans-serif">★</text>
<text x="311.64" y="82.84" font-size="8" stroke="#000" stroke-width="0.5" fill="#000" style="font-family:'DejaVu Sans',sans-serif">★</text>
<text x="315.84" y="110.54" font-size="8" stroke="#000" stroke-width="0.5" fill="#000" style="font-family:'DejaVu Sans',sans-serif">★</text>
<path d="M298 76.8H303.2V132.6H298" fill="none" stroke="#000" stroke-width="2.5" stroke-linejoin="miter"/>
<path d="M308.5 89.2H313.4V132.6H308.5" fill="none" stroke="#000" stroke-width="2.5" stroke-linejoin="miter"/>
<path d="M93.5 315.2H89.1V335.5H93.5" fill="none" stroke="#000" stroke-width="2.5" stroke-linejoin="miter"/>
<path d="M103.4 315.6H98.6V351H103.4" fill="none" stroke="#000" stroke-width="2.5" stroke-linejoin="miter"/>
<path d="M112 325H107.3V351H112" fill="none" stroke="#000" stroke-width="2.5" stroke-linejoin="miter"/>
<text x="86.84" y="314.54" font-size="8" stroke="#000" stroke-width="0.5" fill="#000" style="font-family:'DejaVu Sans',sans-serif">★</text>
<text x="94.74" y="314.54" font-size="8" stroke="#000" stroke-width="0.5" fill="#000" style="font-family:'DejaVu Sans',sans-serif">★</text>
<text x="99.74" y="314.54" font-size="8" stroke="#000" stroke-width="0.5" fill="#000" style="font-family:'DejaVu Sans',sans-serif">★</text>
<text x="103.24" y="324.44" font-size="8" stroke="#000" stroke-width="0.5" fill="#000" style="font-family:'DejaVu Sans',sans-serif">★</text>
<text x="108.44" y="324.44" font-size="8" stroke="#000" stroke-width="0.5" fill="#000" style="font-family:'DejaVu Sans',sans-serif">★</text>
<text x="149.54" y="345.34" font-size="8" stroke="#000" stroke-width="0.5" fill="#000" style="font-family:'DejaVu Sans',sans-serif">★</text>
<text x="153.84" y="345.34" font-size="8" stroke="#000" stroke-width="0.5" fill="#000" style="font-family:'DejaVu Sans',sans-serif">★</text>
<path d="M240.6 327.7H235V346.9H240.6" fill="none" stroke="#000" stroke-width="2.5" stroke-linejoin="miter"/>
<path d="M248.4 327.7H244.5V366.8H248.4" fill="none" stroke="#000" stroke-width="2.5" stroke-linejoin="miter"/>
<path d="M258.7 337.2H253.5V366.8H258.7" fill="none" stroke="#000" stroke-width="2.5" stroke-linejoin="miter"/>
<text x="232.64" y="327.04" font-size="8" stroke="#000" stroke-width="0.5" fill="#000" style="font-family:'DejaVu Sans',sans-serif">★</text>
<text x="241.24" y="327.04" font-size="8" stroke="#000" stroke-width="0.5" fill="#000" style="font-family:'DejaVu Sans',sans-serif">★</text>
<text x="246.24" y="327.04" font-size="8" stroke="#000" stroke-width="0.5" fill="#000" style="font-family:'DejaVu Sans',sans-serif">★</text>
<text x="251.64" y="336.84" font-size="8" stroke="#000" stroke-width="0.5" fill="#000" style="font-family:'DejaVu Sans',sans-serif">★</text>
<text x="256.14" y="336.84" font-size="8" stroke="#000" stroke-width="0.5" fill="#000" style="font-family:'DejaVu Sans',sans-serif">★</text>
<text x="295.74" y="370.84" font-size="8" stroke="#000" stroke-width="0.5" fill="#000" style="font-family:'DejaVu Sans',sans-serif">★</text>
<text x="300.24" y="370.84" font-size="8" stroke="#000" stroke-width="0.5" fill="#000" style="font-family:'DejaVu Sans',sans-serif">★</text>
</svg>
</body></html>
